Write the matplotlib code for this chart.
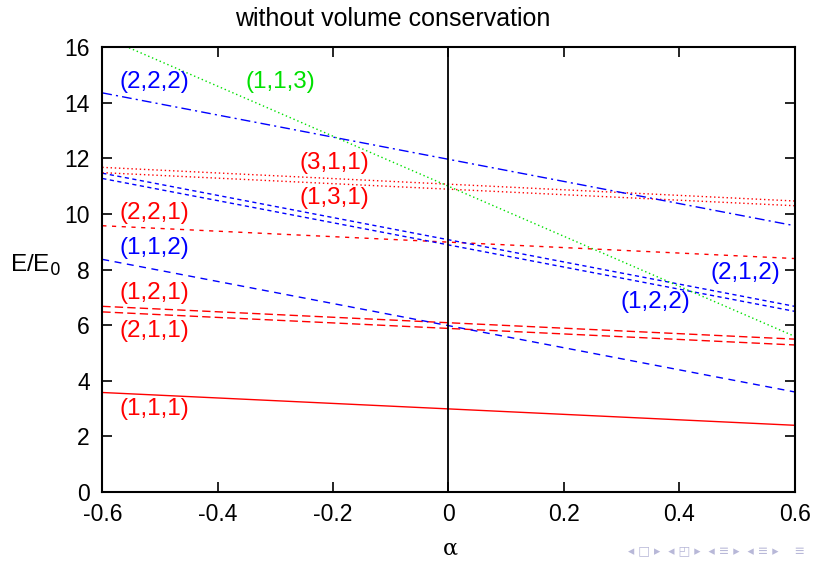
import matplotlib.pyplot as plt
import numpy as np

plt.rcParams['font.family'] = ['Liberation Sans', 'DejaVu Sans']

# energy levels E/E0 at alpha = -0.6 and alpha = 0.6 (lines are straight)
alpha_ends = [-0.6, 0.6]
e_111 = [3.58, 2.40]
e_121 = [6.68, 5.50]
e_211 = [6.48, 5.29]
e_112 = [8.37, 3.60]
e_221 = [9.58, 8.40]
e_212 = [11.47, 6.68]
e_122 = [11.28, 6.50]
e_311 = [11.68, 10.47]
e_131 = [11.49, 10.30]
e_222 = [14.36, 9.58]
e_113 = [16.40, 5.60]

red = '#ff0000'
blue = '#0000ff'
green = '#00e000'

fig = plt.figure(figsize=(8.17, 5.61), dpi=100)
ax = fig.add_axes([0.1252, 0.123, 0.8475, 0.7927])

ax.plot(alpha_ends, e_111, color=red, lw=1.0)
ax.plot(alpha_ends, e_121, color=red, lw=1.0, dashes=(6, 3))
ax.plot(alpha_ends, e_211, color=red, lw=1.0, dashes=(6, 3))
ax.plot(alpha_ends, e_221, color=red, lw=1.0, dashes=(3, 4))
ax.plot(alpha_ends, e_112, color=blue, lw=1.0, dashes=(5, 4))
ax.plot(alpha_ends, e_212, color=blue, lw=1.0, dashes=(3, 2.5))
ax.plot(alpha_ends, e_122, color=blue, lw=1.0, dashes=(3, 2.5))
ax.plot(alpha_ends, e_311, color=red, lw=1.0, dashes=(1, 2))
ax.plot(alpha_ends, e_131, color=red, lw=1.0, dashes=(1, 2))
ax.plot(alpha_ends, e_113, color=green, lw=1.0, dashes=(1, 2))
ax.plot(alpha_ends, e_222, color=blue, lw=1.0, dashes=(7, 3, 1.5, 3))

ax.axvline(0, color='black', lw=1.3)

fs = 17.5
ax.text(-0.51, 14.75, '(2,2,2)', color=blue, fontsize=fs, ha='center', va='center')
ax.text(-0.292, 14.75, '(1,1,3)', color=green, fontsize=fs, ha='center', va='center')
ax.text(-0.197, 11.83, '(3,1,1)', color=red, fontsize=fs, ha='center', va='center')
ax.text(-0.197, 10.58, '(1,3,1)', color=red, fontsize=fs, ha='center', va='center')
ax.text(-0.51, 10.04, '(2,2,1)', color=red, fontsize=fs, ha='center', va='center')
ax.text(-0.51, 8.78, '(1,1,2)', color=blue, fontsize=fs, ha='center', va='center')
ax.text(-0.51, 7.16, '(1,2,1)', color=red, fontsize=fs, ha='center', va='center')
ax.text(-0.51, 5.79, '(2,1,1)', color=red, fontsize=fs, ha='center', va='center')
ax.text(-0.51, 2.99, '(1,1,1)', color=red, fontsize=fs, ha='center', va='center')
ax.text(0.515, 7.88, '(2,1,2)', color=blue, fontsize=fs, ha='center', va='center')
ax.text(0.358, 6.83, '(1,2,2)', color=blue, fontsize=fs, ha='center', va='center')

ax.set_xlim(-0.6, 0.6)
ax.set_ylim(0, 16)
ax.set_xticks(np.arange(-0.6, 0.61, 0.2))
ax.set_xticklabels(['-0.6', '-0.4', '-0.2', '0', '0.2', '0.4', '0.6'])
ax.set_yticks(range(0, 17, 2))
ax.tick_params(direction='in', top=True, right=True, length=7, width=1.2,
               labelsize=16.5)
ax.tick_params(axis='x', pad=8)
ax.tick_params(axis='y', pad=9)
for s in ax.spines.values():
    s.set_linewidth(1.5)

fig.text(0.481, 0.966, 'without volume conservation', fontsize=18,
         ha='center', va='center')
fig.text(0.551, 0.023, 'α', fontsize=16, ha='center', va='center', family='DejaVu Serif')
fig.text(0.043, 0.527, 'E/E$_0$', fontsize=17.5, ha='center', va='center')

# slide navigation glyphs in the corner
fig.text(0.985, 0.018, '◂ □ ▸  ◂ ◰ ▸  ◂ ≡ ▸  ◂ ≡ ▸    ≡', fontsize=9,
         color='#b8b8d8', ha='right', va='center', family='DejaVu Sans')

fig.savefig('out.png', dpi=100)
